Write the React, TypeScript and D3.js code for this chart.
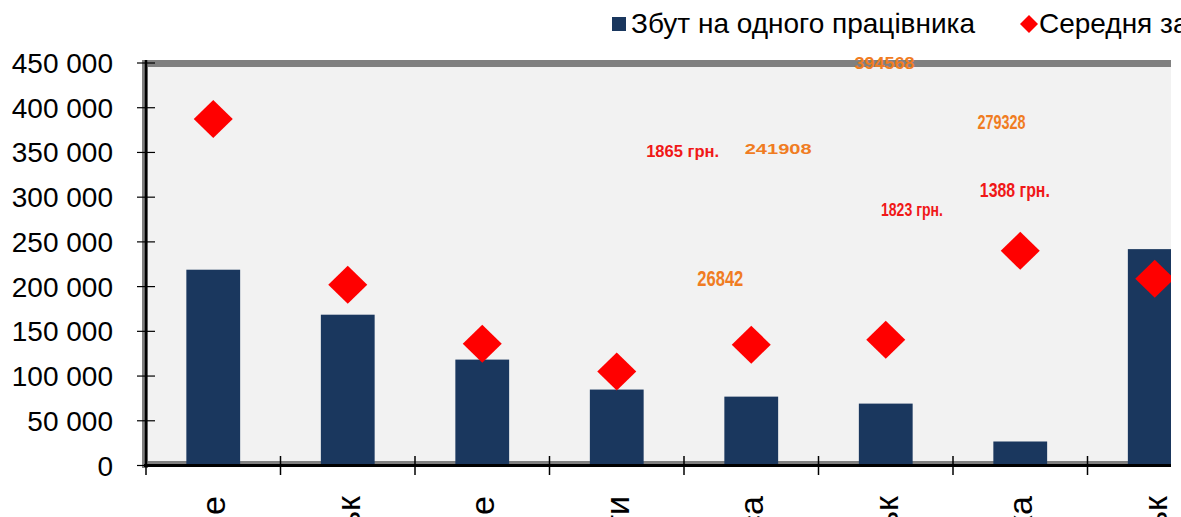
import React, { useEffect, useRef } from 'react';
import * as d3 from 'd3';

// categories (only the word endings are visible in the cropped picture)
const categories = [
  'Центральне',
  'Донецьк',
  'Південне',
  'Карпати',
  'Одеса',
  'Луцьк',
  'Горлівка',
  'Краматорськ',
];

// Збут на одного працівника (bars)
const salesPerWorker = [218900, 168600, 118400, 84900, 77000, 69200, 26842, 241908];

// Середня заробітна плата (diamonds)
const avgSalary = [387500, 202100, 136200, 105000, 135100, 140700, 240000, 208800];

const yTicks = [0, 50000, 100000, 150000, 200000, 250000, 300000, 350000, 400000, 450000];

const legendLabels = ['Збут на одного працівника', 'Середня заробітна плата'];

// stray data labels floating over the plot (x in category units, y in values)
const floatTexts = ['1865 грн.', '241908', '394568', '279328', '1823 грн.', '1388 грн.', '26842'];
const floatX = [3.99, 4.7, 5.49, 6.36, 5.695, 6.46, 4.27];
const floatY = [345000, 348400, 443300, 376300, 279000, 300500, 201000];

const App = () => {
  const svgRef = useRef<SVGSVGElement>(null);

  useEffect(() => {
    const W = 1181;
    const H = 517;
    const left = 146;
    const step = 134.5;
    const clipRight = 1171;

    const svg = d3.select(svgRef.current);
    svg.selectAll('*').remove();
    svg.attr('width', W).attr('height', H);

    const x = d3.scaleBand<string>()
      .domain(categories)
      .range([left, left + step * categories.length])
      .paddingInner(0.6)
      .paddingOuter(0.3);

    const xu = d3.scaleLinear().domain([0, categories.length]).range([left, left + step * categories.length]);

    const y = d3.scaleLinear().domain([0, 450000]).range([465.5, 63]);

    const fmt = d3.formatLocale({ decimal: ',', thousands: ' ', grouping: [3], currency: ['', ''] }).format(',d');

    svg.append('defs').append('clipPath').attr('id', 'plotclip')
      .append('rect').attr('x', 0).attr('y', 0).attr('width', clipRight).attr('height', H);

    // plot background
    svg.append('rect')
      .attr('x', 148).attr('y', 66)
      .attr('width', clipRight - 148).attr('height', 464 - 66)
      .attr('fill', '#f2f2f2');

    // grey frame (top + left + bottom shadow)
    svg.append('rect').attr('x', 143).attr('y', 60).attr('width', clipRight - 143).attr('height', 7).attr('fill', '#808080');
    svg.append('rect').attr('x', 142).attr('y', 60).attr('width', 6).attr('height', 408).attr('fill', '#808080');
    svg.append('rect').attr('x', 142).attr('y', 461).attr('width', clipRight - 142).attr('height', 6).attr('fill', '#808080');

    const plot = svg.append('g').attr('clip-path', 'url(#plotclip)');

    plot.selectAll('.bar')
      .data(salesPerWorker)
      .enter().append('rect')
      .attr('class', 'bar')
      .attr('x', (d, i) => x(categories[i])!)
      .attr('y', d => y(d))
      .attr('width', x.bandwidth())
      .attr('height', d => y(0) - 1.5 - y(d))
      .attr('fill', '#1a375e');

    // axis lines
    svg.append('line').attr('x1', 146).attr('x2', 146).attr('y1', 60).attr('y2', 467)
      .attr('stroke', '#000').attr('stroke-width', 2.5);
    svg.append('line').attr('x1', 144).attr('x2', clipRight).attr('y1', y(0)).attr('y2', y(0))
      .attr('stroke', '#000').attr('stroke-width', 3);

    // value ticks
    svg.selectAll('.ytick')
      .data(yTicks)
      .enter().append('line')
      .attr('x1', 137).attr('x2', 155)
      .attr('y1', d => y(d)).attr('y2', d => y(d))
      .attr('stroke', '#000').attr('stroke-width', 1.2);

    svg.selectAll('.ylabel')
      .data(yTicks)
      .enter().append('text')
      .attr('x', 113)
      .attr('y', d => y(d) + 10)
      .attr('text-anchor', 'end')
      .attr('font-family', 'Liberation Sans, Arial, sans-serif')
      .attr('font-size', 28)
      .attr('fill', '#000')
      .text(d => fmt(d));

    // category ticks
    const catTicks = d3.range(categories.length + 1).filter(i => xu(i) <= clipRight);
    svg.selectAll('.xtick')
      .data(catTicks)
      .enter().append('line')
      .attr('x1', d => xu(d)).attr('x2', d => xu(d))
      .attr('y1', 456).attr('y2', 475)
      .attr('stroke', '#000').attr('stroke-width', 1.5);

    // category labels, rotated
    svg.selectAll('.xlabel')
      .data(categories)
      .enter().append('text')
      .attr('transform', d => `translate(${x(d)! + x.bandwidth() / 2 + 12},496) rotate(-90)`)
      .attr('text-anchor', 'end')
      .attr('font-family', 'Liberation Sans, Arial, sans-serif')
      .attr('font-size', 34)
      .attr('fill', '#000')
      .text(d => d);

    // diamonds
    const diamond = 'M0,-19L19.5,0L0,19L-19.5,0Z';
    plot.selectAll('.dot')
      .data(avgSalary)
      .enter().append('path')
      .attr('class', 'dot')
      .attr('d', diamond)
      .attr('transform', (d, i) => `translate(${x(categories[i])! + x.bandwidth() / 2},${y(d)})`)
      .attr('fill', '#ff0000');

    // floating labels
    const floatColor = ['#f01818', '#f07c22', '#f07c22', '#f07c22', '#f01818', '#f01818', '#f07c22'];
    const floatSize = [16, 14, 16, 20, 19, 21, 22];
    const floatLen = [73, 67, 60, 48, 62, 70, 46];
    plot.selectAll('.float')
      .data(floatTexts)
      .enter().append('text')
      .attr('x', (d, i) => xu(floatX[i]))
      .attr('y', (d, i) => y(floatY[i]))
      .attr('text-anchor', 'middle')
      .attr('font-family', 'Liberation Sans Narrow, Liberation Sans, Arial, sans-serif')
      .attr('font-weight', 'bold')
      .attr('font-size', (d, i) => floatSize[i])
      .attr('textLength', (d, i) => floatLen[i])
      .attr('lengthAdjust', 'spacingAndGlyphs')
      .attr('fill', (d, i) => floatColor[i])
      .text(d => d);

    // legend
    const lg = svg.append('g').attr('font-family', 'Liberation Sans, Arial, sans-serif').attr('font-size', 28);
    lg.append('rect').attr('x', 612).attr('y', 17).attr('width', 14).attr('height', 14).attr('fill', '#1a375e');
    lg.append('text').attr('x', 631).attr('y', 33).attr('fill', '#000').text(legendLabels[0]);
    lg.append('path').attr('d', 'M0,-9L9,0L0,9L-9,0Z').attr('transform', 'translate(1029,24)').attr('fill', '#ff0000');
    lg.append('text').attr('x', 1039).attr('y', 33).attr('fill', '#000').text(legendLabels[1]);
  }, []);

  return (
    <svg
      ref={svgRef}
      style={{ position: 'absolute', left: 0, top: 0, display: 'block', background: '#fff' }}
    ></svg>
  );
};

export default App;
